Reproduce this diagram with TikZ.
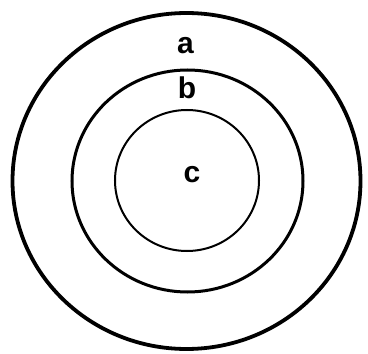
\documentclass[tikz,border=0pt]{standalone}
\usepackage{fontspec}
\setmainfont{Liberation Sans}
\begin{document}
\begin{tikzpicture}[x=1bp,y=1bp,
  lbl/.style={anchor=base,inner sep=0pt,font=\fontsize{30bp}{30bp}\selectfont\bfseries}]
\useasboundingbox (0,0) rectangle (368,354);
\draw[line width=3.8bp] (186.5,173) ellipse [x radius=174, y radius=168];
\draw[line width=3bp] (187.5,173) ellipse [x radius=115.5, y radius=111];
\draw[line width=2bp] (187,173.5) ellipse [x radius=72, y radius=70.5];
\node[lbl] (a) at (185.5,301) {a};
\node[lbl] (b) at (187,256) {b};
\node[lbl] (c) at (192,172) {c};
\end{tikzpicture}
\end{document}
